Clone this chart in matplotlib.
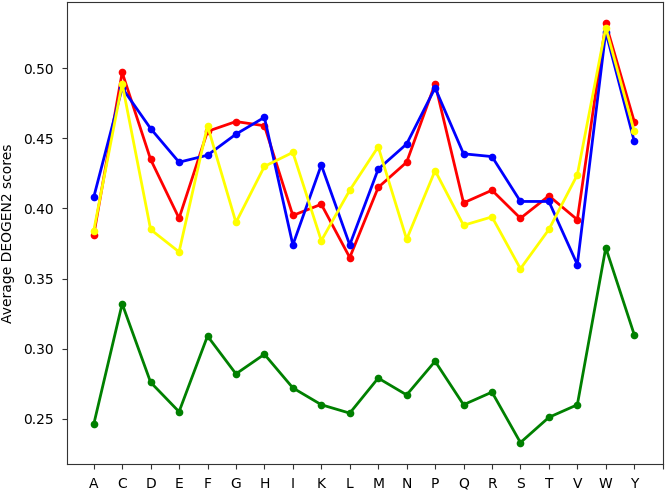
import matplotlib
matplotlib.use("Agg")
import matplotlib.pyplot as plt

# Amino acids on the x axis
residues = ["A", "C", "D", "E", "F", "G", "H", "I", "K", "L",
            "M", "N", "P", "Q", "R", "S", "T", "V", "W", "Y"]

red_scores = [0.381, 0.497, 0.435, 0.393, 0.455, 0.462, 0.459, 0.395, 0.403, 0.365,
              0.415, 0.433, 0.489, 0.404, 0.413, 0.393, 0.409, 0.392, 0.532, 0.462]
blue_scores = [0.408, 0.486, 0.457, 0.433, 0.438, 0.453, 0.465, 0.374, 0.431, 0.374,
               0.428, 0.446, 0.486, 0.439, 0.437, 0.405, 0.405, 0.360, 0.526, 0.448]
yellow_scores = [0.384, 0.489, 0.385, 0.369, 0.459, 0.390, 0.430, 0.440, 0.377, 0.413,
                 0.444, 0.378, 0.427, 0.388, 0.394, 0.357, 0.385, 0.424, 0.529, 0.455]
green_scores = [0.246, 0.332, 0.276, 0.255, 0.309, 0.282, 0.296, 0.272, 0.260, 0.254,
                0.279, 0.267, 0.291, 0.260, 0.269, 0.233, 0.251, 0.260, 0.372, 0.310]

x = list(range(len(residues)))

fig = plt.figure(figsize=(6.66, 4.90), dpi=100)
ax = fig.add_axes([0.101, 0.054, 0.894, 0.941])

for scores, color in [(red_scores, "red"), (blue_scores, "blue"),
                      (yellow_scores, "yellow"), (green_scores, "green")]:
    ax.plot(x, scores, color=color, linewidth=2, marker="o", markersize=4.5)

# one extra, unlabeled tick at the right edge
ax.set_xticks(x + [len(residues)])
ax.set_xticklabels(residues + [""])
ax.set_xlim(-0.93, len(residues))
ax.tick_params(axis="both", pad=6, colors="#333333", labelcolor="black")
for spine in ax.spines.values():
    spine.set_color("#333333")
ax.set_ylabel("Average DEOGEN2 scores", labelpad=6)

fig.savefig("out.png", dpi=100)
